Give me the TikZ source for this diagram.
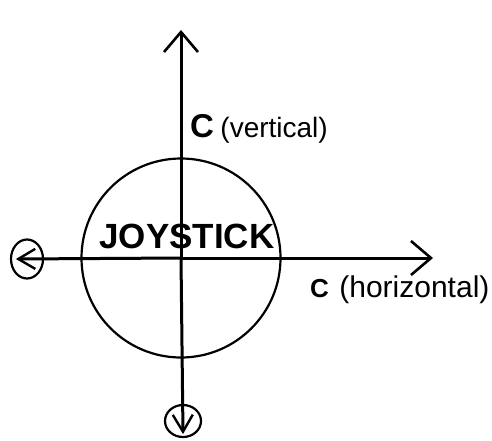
\documentclass[tikz,border=0pt]{standalone}
\usepackage{fontspec}
\setmainfont{Liberation Sans}
\usetikzlibrary{arrows.meta,positioning,shapes.geometric}
\begin{document}
\begin{tikzpicture}[
    x=1pt, y=-1pt,
    axisline/.style={line width=3pt, line cap=round},
    bigtip/.style={-{Straight Barb[length=20pt,width=34pt,line width=2.6pt]}},
    smalltip/.style={-{Straight Barb[length=17pt,width=20pt,line width=2.4pt]}},
    ring/.style={ellipse, draw, line width=2.2pt, inner sep=0pt},
    letterC/.style={inner sep=0pt, anchor=base west, font=\bfseries},
    word/.style={inner sep=0pt, anchor=base west}
]
\useasboundingbox (0,0) rectangle (492,440);
\coordinate (ctr) at (181,258);
\coordinate (vtop) at (181,30);
\coordinate (hright) at (433,258);
\node[circle, draw, line width=2.2pt, minimum size=199pt, inner sep=0pt] (joy) at (ctr) {};
\node[ring, minimum width=32pt, minimum height=39pt] (lring) at (27,259) {};
\node[ring, minimum width=36pt, minimum height=32pt] (bring) at (183,421) {};
\node[font=\fontsize{35}{35}\selectfont\bfseries, inner sep=0pt] (name) at (187,236) {JOYSTICK};

% labels for the two axes
\node[letterC, font=\fontsize{33}{33}\selectfont\bfseries] (cv) at (190,137) {C};
\node[word, font=\fontsize{28}{28}\selectfont] (vword) at ([xshift=6pt]cv.base east) {(vertical)};
\node[letterC, font=\fontsize{26}{26}\selectfont\bfseries] (ch) at (310,297) {C};
\node[word, font=\fontsize{30}{30}\selectfont] (hword) at ([xshift=10pt]ch.base east) {(horizontal)};

% axes
\draw[axisline, bigtip] (ctr) -- (vtop);
\draw[axisline, bigtip] (ctr) -- (hright);
\draw[axisline, smalltip] (ctr) -- ([xshift=6pt]lring.west);
\draw[axisline, smalltip] (ctr) -- ([yshift=4pt]bring.south);
\end{tikzpicture}
\end{document}
